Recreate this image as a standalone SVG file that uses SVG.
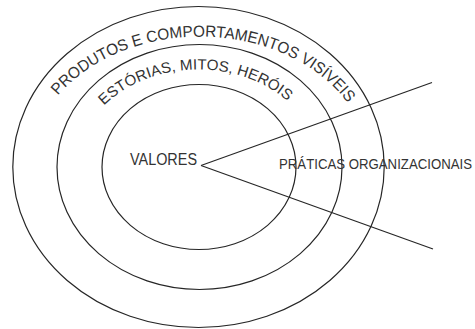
<svg xmlns="http://www.w3.org/2000/svg" xmlns:xlink="http://www.w3.org/1999/xlink" width="475" height="329" viewBox="0 0 475 329">
<style>
.ring{fill:none;stroke:#262626;stroke-width:1.2}
.lbl{font-family:"Liberation Sans",Arial,sans-serif;fill:#333;font-size:14px}
.big{font-size:16px}
.mid{font-size:15px}
.conn{fill:none;stroke:#262626;stroke-width:1.2}
</style>
<defs>
<path id="arcOuter" d="M 58 95.5 A 169.5 130 0 0 1 368 150"/>
<path id="arcInner" d="M 104 105.5 A 122 99 0 0 1 315 140"/>
</defs>
<rect width="475" height="329" fill="#fff"/>
<g id="outer-ring">
<ellipse class="ring" cx="198.5" cy="167" rx="185.7" ry="160.5"/>
<text class="lbl big"><textPath xlink:href="#arcOuter" href="#arcOuter" textLength="326" lengthAdjust="spacingAndGlyphs">PRODUTOS E COMPORTAMENTOS VISÍVEIS</textPath></text>
</g>
<g id="middle-ring">
<ellipse class="ring" cx="199.5" cy="167" rx="142.5" ry="122.5"/>
<text class="lbl mid"><textPath xlink:href="#arcInner" href="#arcInner" textLength="200" lengthAdjust="spacingAndGlyphs">ESTÓRIAS, MITOS, HERÓIS</textPath></text>
</g>
<g id="inner-ring">
<ellipse class="ring" cx="199" cy="167" rx="97" ry="82.5"/>
<text class="lbl big" x="130" y="165" textLength="67" lengthAdjust="spacingAndGlyphs">VALORES</text>
</g>
<g id="praticas">
<text class="lbl" x="279" y="168.5" textLength="193" lengthAdjust="spacingAndGlyphs">PRÁTICAS ORGANIZACIONAIS</text>
</g>
<g id="connectors">
<line class="conn" x1="201" y1="165.5" x2="432" y2="82.5"/>
<line class="conn" x1="201" y1="165.5" x2="433" y2="249"/>
</g>
</svg>
